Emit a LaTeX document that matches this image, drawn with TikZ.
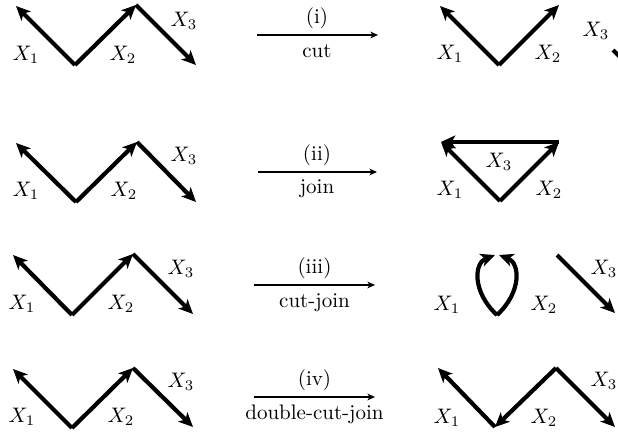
\documentclass[tikz,border=0pt]{standalone}
\usetikzlibrary{arrows.meta}
\begin{document}
\begin{tikzpicture}[x=0.47619pt, y=-0.47619pt,
  seg/.style={line width=2pt, -{Stealth[length=6.8pt,width=6.2pt,inset=1.8pt]}},
  trans/.style={line width=0.75pt, -{Stealth[length=3.6pt,width=3.2pt,inset=1pt]}},
  lbl/.style={inner sep=0pt},
  tlbl/.style={inner sep=0pt, anchor=base}]
\clip (0,0) rectangle (618,433);
% ---------- left column ----------
\coordinate (a1) at (16,6);   \coordinate (v1) at (75,65);  \coordinate (p1) at (136,5);   \coordinate (e1) at (196,65);
\coordinate (a2) at (16,143); \coordinate (v2) at (76,202); \coordinate (p2) at (137,142); \coordinate (e2) at (196,202);
\coordinate (a3) at (13,255); \coordinate (v3) at (72,315); \coordinate (p3) at (133,254); \coordinate (e3) at (193,314);
\coordinate (a4) at (13,369); \coordinate (v4) at (72,428); \coordinate (p4) at (133,368); \coordinate (e4) at (193,427);
\foreach \r in {1,2,3,4}{
  \draw[seg] (v\r) -- (a\r);
  \draw[seg] (v\r) -- (p\r);
  \draw[seg] (p\r) -- (e\r);
}
\node[lbl] (lx11) at (26,55) {$X_1$};  \node[lbl] (lx21) at (123,55) {$X_2$};  \node[lbl] (lx31) at (184,21) {$X_3$};
\node[lbl] (lx12) at (26,191) {$X_1$}; \node[lbl] (lx22) at (124,191) {$X_2$}; \node[lbl] (lx32) at (184,156) {$X_3$};
\node[lbl] (lx13) at (22,304) {$X_1$}; \node[lbl] (lx23) at (121,304) {$X_2$}; \node[lbl] (lx33) at (181,269) {$X_3$};
\node[lbl] (lx14) at (22,417) {$X_1$}; \node[lbl] (lx24) at (121,417) {$X_2$}; \node[lbl] (lx34) at (181,382) {$X_3$};
% ---------- middle arrows ----------
\coordinate (s1) at (257,35);  \coordinate (t1) at (378,35);
\coordinate (s2) at (258,172); \coordinate (t2) at (377,172);
\coordinate (s3) at (254,285); \coordinate (t3) at (375,285);
\coordinate (s4) at (254,397); \coordinate (t4) at (375,397);
\foreach \r in {1,2,3,4}{ \draw[trans] (s\r) -- (t\r); }
\node[tlbl] (op1) at (317,23.5) {(i)};    \node[tlbl] (nm1) at (317,58) {cut};
\node[tlbl] (op2) at (317,160.5) {(ii)};  \node[tlbl] (nm2) at (317,194) {join};
\node[tlbl] (op3) at (314.5,273.5) {(iii)}; \node[tlbl] (nm3) at (314.5,308) {cut-join};
\node[tlbl] (op4) at (314.5,385.5) {(iv)};  \node[tlbl] (nm4) at (314.5,420) {double-cut-join};
% ---------- right column ----------
% (i) cut
\coordinate (ra1) at (440,6); \coordinate (rv1) at (499,65); \coordinate (rp1) at (559,5);
\coordinate (rc1) at (613,50); \coordinate (re1) at (673,110);
\draw[seg] (rv1) -- (ra1);
\draw[seg] (rv1) -- (rp1);
\draw[seg] (rc1) -- (re1);
\node[lbl] (rx11) at (450,54) {$X_1$}; \node[lbl] (rx21) at (548,54) {$X_2$}; \node[lbl] (rx31) at (596,31) {$X_3$};
% (ii) join
\coordinate (ra2) at (441,142); \coordinate (rv2) at (500,201); \coordinate (rp2) at (559,142);
\draw[seg] (rv2) -- (ra2);
\draw[seg] (rv2) -- (rp2);
\draw[seg] (rp2) -- (ra2);
\node[lbl] (rx12) at (450,190) {$X_1$}; \node[lbl] (rx22) at (549,190) {$X_2$}; \node[lbl] (rx32) at (499,162) {$X_3$};
% (iii) cut-join
\coordinate (rv3) at (497,315); \coordinate (rtl3) at (495,255); \coordinate (rtr3) at (499,255);
\coordinate (rc3) at (557,255); \coordinate (re3) at (615,313);
\draw[seg] (rv3) .. controls (472,292) and (474,263) .. (rtl3);
\draw[seg] (rv3) .. controls (522,292) and (520,263) .. (rtr3);
\draw[seg] (rc3) -- (re3);
\node[lbl] (rx13) at (447,305) {$X_1$}; \node[lbl] (rx23) at (544,305) {$X_2$}; \node[lbl] (rx33) at (604,269) {$X_3$};
% (iv) double-cut-join
\coordinate (ra4) at (438,368); \coordinate (rv4) at (495,427); \coordinate (rp4) at (556,368); \coordinate (re4) at (615,427);
\draw[seg] (rv4) -- (ra4);
\draw[seg] (rp4) -- (rv4);
\draw[seg] (rp4) -- (re4);
\node[lbl] (rx14) at (447,418) {$X_1$}; \node[lbl] (rx24) at (544,418) {$X_2$}; \node[lbl] (rx34) at (604,381) {$X_3$};
\end{tikzpicture}
\end{document}
